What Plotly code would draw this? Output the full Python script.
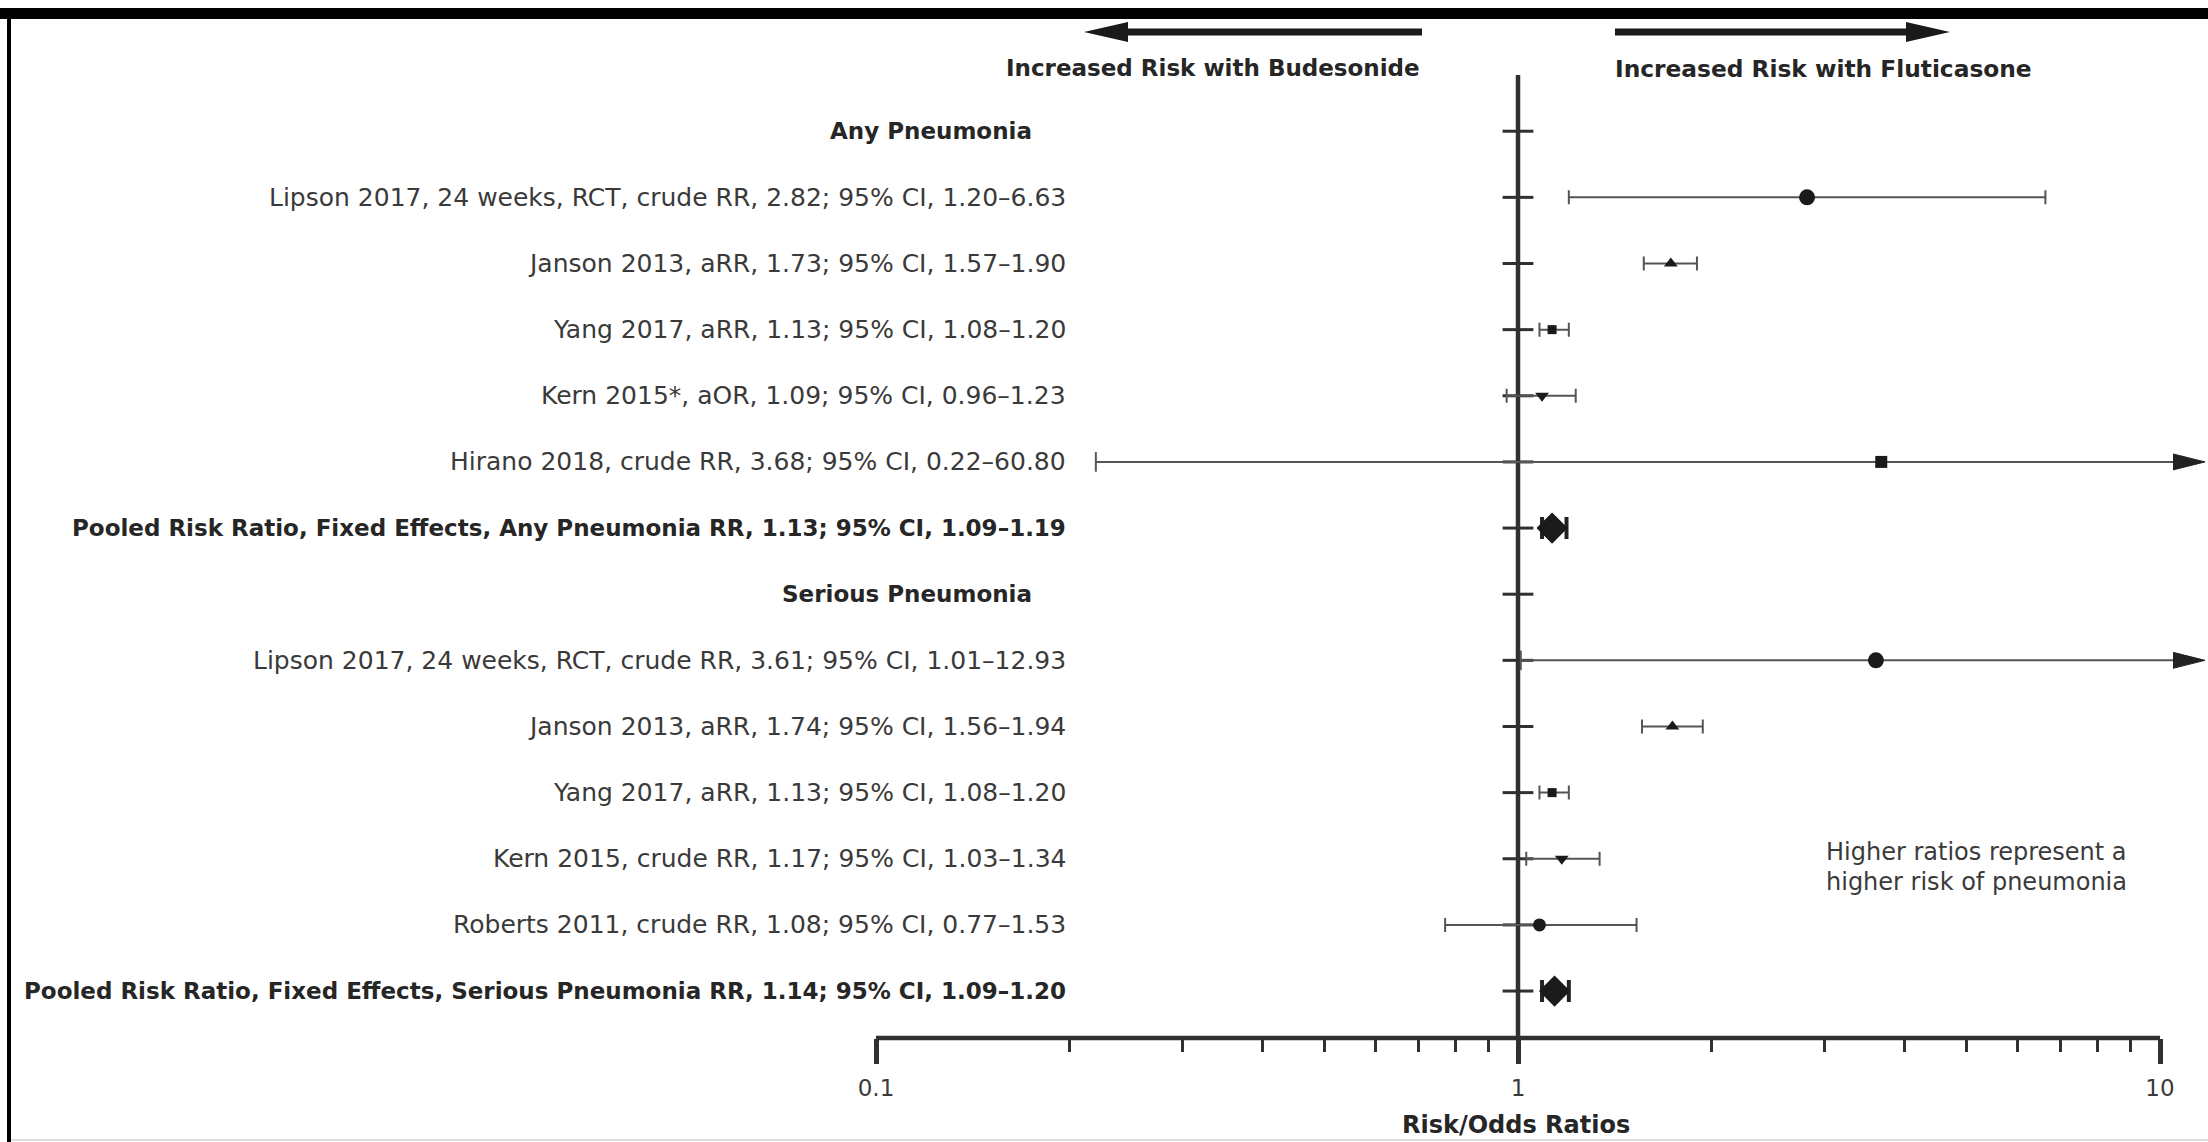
import math
import plotly.graph_objects as go

# ---------------- data ----------------
section_titles = ["Any Pneumonia", "Serious Pneumonia"]

any_names = ["Lipson 2017, 24 weeks, RCT, crude RR", "Janson 2013, aRR", "Yang 2017, aRR",
             "Kern 2015*, aOR", "Hirano 2018, crude RR"]
any_est = [2.82, 1.73, 1.13, 1.09, 3.68]
any_lo = [1.20, 1.57, 1.08, 0.96, 0.22]
any_hi = [6.63, 1.90, 1.20, 1.23, 60.80]
any_pooled_name = "Pooled Risk Ratio, Fixed Effects, Any Pneumonia RR"
any_pooled_est, any_pooled_lo, any_pooled_hi = 1.13, 1.09, 1.19

serious_names = ["Lipson 2017, 24 weeks, RCT, crude RR", "Janson 2013, aRR", "Yang 2017, aRR",
                 "Kern 2015, crude RR", "Roberts 2011, crude RR"]
serious_est = [3.61, 1.74, 1.13, 1.17, 1.08]
serious_lo = [1.01, 1.56, 1.08, 1.03, 0.77]
serious_hi = [12.93, 1.94, 1.20, 1.34, 1.53]
serious_pooled_name = "Pooled Risk Ratio, Fixed Effects, Serious Pneumonia RR"
serious_pooled_est, serious_pooled_lo, serious_pooled_hi = 1.14, 1.09, 1.20

x_tick_vals = [0.1, 1, 10]
x_tick_text = ["0.1", "1", "10"]
x_minor_vals = [0.2, 0.3, 0.4, 0.5, 0.6, 0.7, 0.8, 0.9, 2, 3, 4, 5, 6, 7, 8, 9]
x_title = "Risk/Odds Ratios"
left_header = "Increased Risk with Budesonide"
right_header = "Increased Risk with Fluticasone"
note_lines = ["Higher ratios represent a", "higher risk of pneumonia"]

# ---------------- styles ----------------
any_symbols = ["circle", "triangle-up", "square", "triangle-down", "square"]
any_sizes = [16, 12, 9, 12, 12]
serious_symbols = ["circle", "triangle-up", "square", "triangle-down", "circle"]
serious_sizes = [16, 12, 9, 12, 13]

FONT = "DejaVu Sans, Liberation Sans, Arial, sans-serif"
TXT = "#3a3a3a"
DARK = "#262626"
LINE = "#555555"
W, H = 2208, 1142
L, R, T, B = 876, 0, 75, 104
X_MIN_LOG = -1.0
PPD = 642.0  # pixels per decade
X_MAX_LOG = X_MIN_LOG + (W - L - R) / PPD
Y_TOP, Y_BOT = -0.85, 13.71
LABEL_RIGHT_PX = 1068
HEADER_RIGHT_PX = 1034
LABEL_SIZE = 25
BOLD_SIZE = 23


def pxx(px):
    return (px - L) / (W - L - R)


def pxy(py):
    return (H - B - py) / (H - T - B)


# build rows
rows = []
idx = 0
for title, names, est, lo, hi, syms, sizes, pname, pe, pl, ph in [
    (section_titles[0], any_names, any_est, any_lo, any_hi, any_symbols, any_sizes,
     any_pooled_name, any_pooled_est, any_pooled_lo, any_pooled_hi),
    (section_titles[1], serious_names, serious_est, serious_lo, serious_hi, serious_symbols, serious_sizes,
     serious_pooled_name, serious_pooled_est, serious_pooled_lo, serious_pooled_hi),
]:
    rows.append(dict(y=idx, kind="header", label=title))
    idx += 1
    for n, e, l, h, s, z in zip(names, est, lo, hi, syms, sizes):
        rows.append(dict(y=idx, kind="study", label=f"{n}, {e:.2f}; 95% CI, {l:.2f}\u2013{h:.2f}",
                         est=e, lo=l, hi=h, symbol=s, size=z))
        idx += 1
    rows.append(dict(y=idx, kind="pooled", label=f"{pname}, {pe:.2f}; 95% CI, {pl:.2f}\u2013{ph:.2f}",
                     est=pe, lo=pl, hi=ph, symbol="diamond", size=24))
    idx += 1

fig = go.Figure()

# vertical reference line at 1
fig.add_trace(go.Scatter(x=[1, 1], y=[Y_TOP, Y_BOT], mode="lines",
                         line=dict(color="#303030", width=4.5), hoverinfo="skip", showlegend=False))
# row ticks on the reference line
fig.add_trace(go.Scatter(x=[1] * len(rows), y=[r["y"] for r in rows], mode="markers",
                         marker=dict(symbol="line-ew", size=22, line=dict(width=3, color="#303030")),
                         hoverinfo="skip", showlegend=False))

annotations = []
tip_log = X_MIN_LOG + (2205 - L) / PPD
head_len_log = 32 / PPD
head_half = 8 / ((H - T - B) / (Y_BOT - Y_TOP))
x_max_val = x_tick_vals[-1]

for r in rows:
    if r["kind"] == "header":
        annotations.append(dict(x=pxx(HEADER_RIGHT_PX), y=r["y"], xref="paper", yref="y",
                                xanchor="right", yanchor="middle", showarrow=False,
                                text=f"<b>{r['label']}</b>", font=dict(family=FONT, size=BOLD_SIZE, color=DARK)))
        continue
    bold = r["kind"] == "pooled"
    annotations.append(dict(x=pxx(LABEL_RIGHT_PX), y=r["y"], xref="paper", yref="y",
                            xanchor="right", yanchor="middle", showarrow=False,
                            text=(f"<b>{r['label']}</b>" if bold else r["label"]),
                            font=dict(family=FONT, size=BOLD_SIZE if bold else LABEL_SIZE,
                                      color=DARK if bold else TXT)))
    if r["hi"] > x_max_val:
        # CI runs off the scale: line with an arrowhead
        fig.add_trace(go.Scatter(x=[r["lo"], 10 ** (tip_log - head_len_log / 2)], y=[r["y"], r["y"]],
                                 mode="lines", line=dict(color=LINE, width=2),
                                 hoverinfo="skip", showlegend=False))
        fig.add_trace(go.Scatter(x=[10 ** (tip_log - head_len_log), 10 ** tip_log, 10 ** (tip_log - head_len_log)],
                                 y=[r["y"] - head_half, r["y"], r["y"] + head_half],
                                 mode="lines", fill="toself", fillcolor="#222222",
                                 line=dict(color="#222222", width=1), hoverinfo="skip", showlegend=False))
        fig.add_trace(go.Scatter(x=[r["lo"]], y=[r["y"]], mode="markers",
                                 marker=dict(symbol="line-ns", size=14, line=dict(width=2, color=LINE)),
                                 hoverinfo="skip", showlegend=False))
        err = None
    else:
        err = dict(type="data", symmetric=False, array=[r["hi"] - r["est"]],
                   arrayminus=[r["est"] - r["lo"]], color=LINE if not bold else "#222222",
                   thickness=2 if not bold else 4, width=7 if not bold else 11)
    fig.add_trace(go.Scatter(x=[r["est"]], y=[r["y"]], mode="markers",
                             marker=dict(symbol=r["symbol"], size=r["size"], color="#1a1a1a",
                                         line=dict(width=0)),
                             error_x=err, hoverinfo="skip", showlegend=False))

# axis title
annotations.append(dict(x=pxx(1516), y=pxy(1125), xref="paper", yref="paper", showarrow=False,
                        xanchor="center", yanchor="middle", text=f"<b>{x_title}</b>",
                        font=dict(family=FONT, size=24, color=DARK)))
# top headers
annotations.append(dict(x=pxx(1422), y=pxy(68), xref="paper", yref="paper", showarrow=False,
                        xanchor="right", yanchor="middle", text=f"<b>{left_header}</b>",
                        font=dict(family=FONT, size=23, color=DARK)))
annotations.append(dict(x=pxx(1613), y=pxy(68), xref="paper", yref="paper", showarrow=False,
                        xanchor="left", yanchor="middle", text=f"<b>{right_header}</b>",
                        font=dict(family=FONT, size=23.3, color=DARK)))
# note
for i, t in enumerate(note_lines):
    annotations.append(dict(x=pxx(1824), y=pxy(852 + 30 * i), xref="paper", yref="paper", showarrow=False,
                            xanchor="left", yanchor="middle", text=t,
                            font=dict(family=FONT, size=24, color=TXT)))

shapes = []
# top black band, left border, faint bottom rule
shapes.append(dict(type="rect", xref="paper", yref="paper", x0=pxx(0), x1=pxx(W), y0=pxy(8), y1=pxy(19),
                   fillcolor="#000000", line=dict(width=0), layer="above"))
shapes.append(dict(type="rect", xref="paper", yref="paper", x0=pxx(7), x1=pxx(11), y0=pxy(8), y1=pxy(H),
                   fillcolor="#000000", line=dict(width=0), layer="above"))
shapes.append(dict(type="line", xref="paper", yref="paper", x0=pxx(11), x1=pxx(W), y0=pxy(1140), y1=pxy(1140),
                   line=dict(color="#dddddd", width=2)))
# x axis line (0.1 to 10)
shapes.append(dict(type="line", xref="paper", yref="paper",
                   x0=(math.log10(x_tick_vals[0]) - X_MIN_LOG) / (X_MAX_LOG - X_MIN_LOG),
                   x1=(math.log10(x_tick_vals[-1]) - X_MIN_LOG) / (X_MAX_LOG - X_MIN_LOG),
                   y0=0, y1=0, line=dict(color="#303030", width=4.5)))


# top direction arrows
def arrow(tail_px, tip_px, ypx, head_len=44, head_half=10, shaft=7):
    d = 1 if tip_px > tail_px else -1
    base = tip_px - d * head_len
    shapes.append(dict(type="line", xref="paper", yref="paper", x0=pxx(tail_px), x1=pxx(base + d * 2),
                       y0=pxy(ypx), y1=pxy(ypx), line=dict(color="#1a1a1a", width=shaft)))
    path = (f"M {pxx(base)} {pxy(ypx - head_half)} L {pxx(tip_px)} {pxy(ypx)} "
            f"L {pxx(base)} {pxy(ypx + head_half)} Z")
    shapes.append(dict(type="path", xref="paper", yref="paper", path=path,
                       fillcolor="#1a1a1a", line=dict(width=0)))


arrow(1422, 1084, 32)
arrow(1615, 1950, 32)

fig.update_layout(
    width=W, height=H,
    margin=dict(l=L, r=R, t=T, b=B, pad=0),
    paper_bgcolor="white", plot_bgcolor="white",
    showlegend=False,
    xaxis=dict(type="log", range=[X_MIN_LOG, X_MAX_LOG], showgrid=False, zeroline=False,
               showline=False, tickvals=x_tick_vals, ticktext=x_tick_text,
               ticks="outside", ticklen=25, tickwidth=4.5, tickcolor="#303030",
               ticklabelstandoff=4,
               tickfont=dict(family=FONT, size=23, color=TXT),
               minor=dict(tickvals=x_minor_vals, ticks="outside", ticklen=13, tickwidth=3,
                          tickcolor="#303030", showgrid=False)),
    yaxis=dict(range=[Y_BOT, Y_TOP], visible=False, showgrid=False, zeroline=False),
    annotations=annotations,
    shapes=shapes,
)

fig.write_html("out.html", config={"displayModeBar": False},
               post_script="document.body.style.margin='0';document.body.style.overflow='hidden';")
